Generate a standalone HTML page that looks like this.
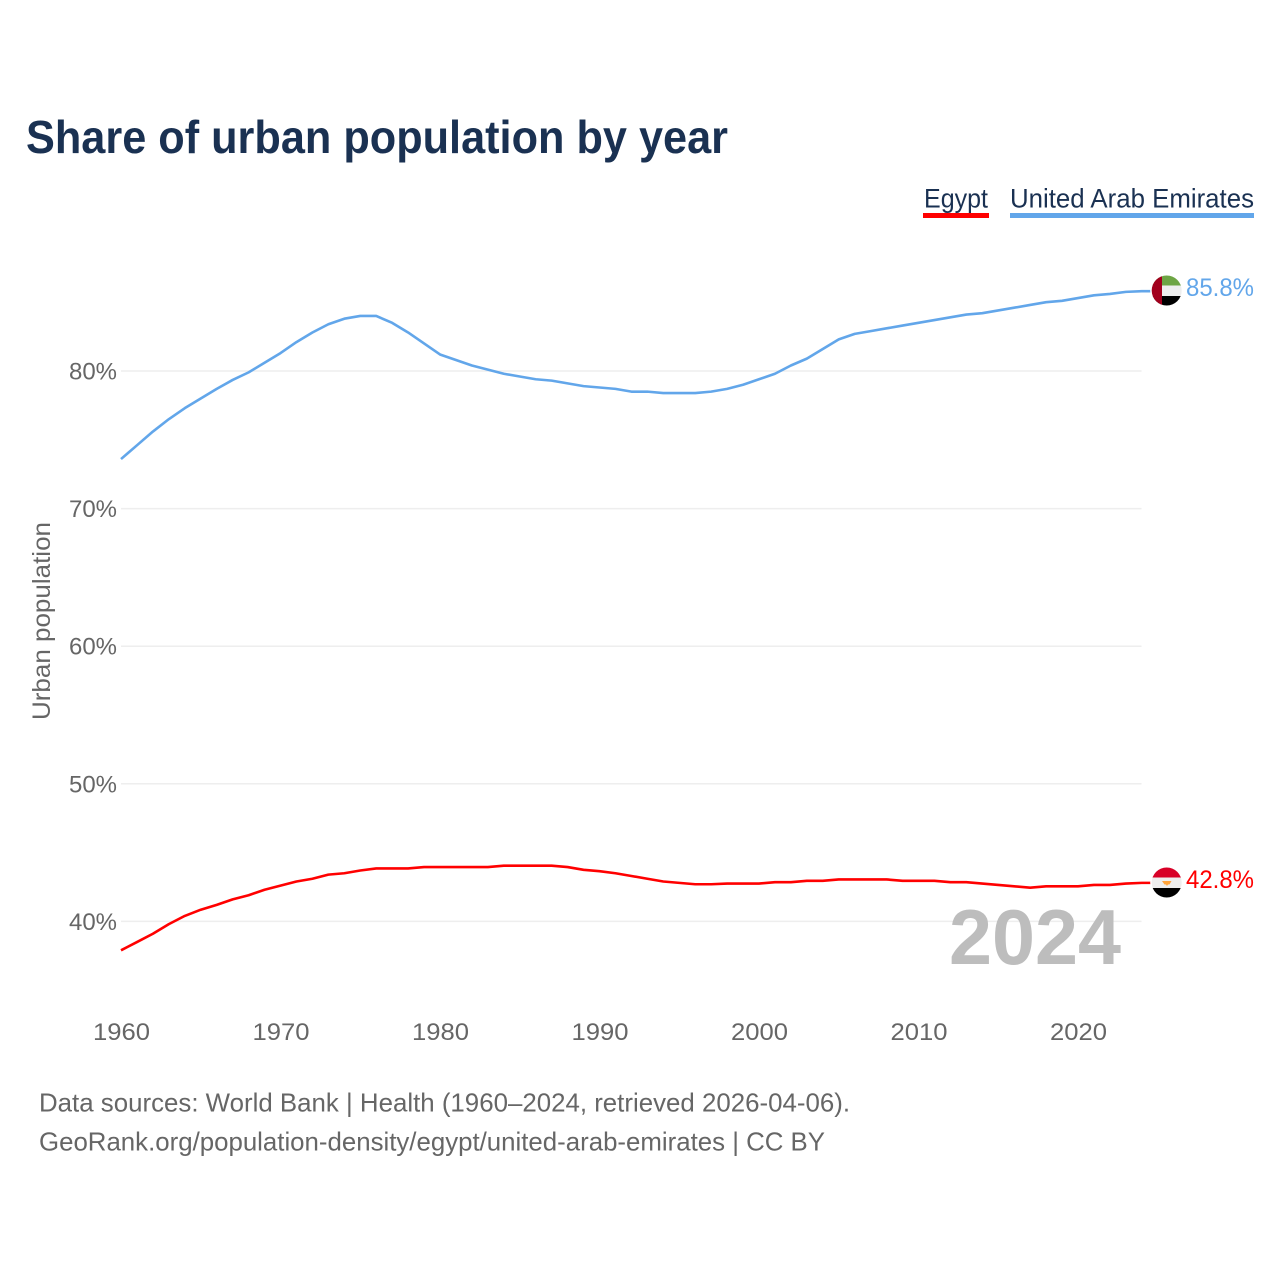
<!DOCTYPE html>
<html>
<head>
<meta charset="utf-8">
<title>Share of urban population by year</title>
<style>
html,body{margin:0;padding:0;background:#fff}
svg{display:block}
text{font-family:"Liberation Sans",sans-serif}
</style>
</head>
<body>
<svg id="chart" xmlns="http://www.w3.org/2000/svg" width="1280" height="1280" viewBox="0 0 1280 1280">
<defs>
<clipPath id="clip-uae"><circle cx="1166.7" cy="290.5" r="15"/></clipPath>
<clipPath id="clip-egypt"><circle cx="1166.7" cy="882.5" r="15"/></clipPath>
</defs>
<text x="26" y="153" font-size="46" font-weight="700" fill="#1a3152" textLength="702" lengthAdjust="spacingAndGlyphs">Share of urban population by year</text>
<g>
<g>
<text x="924" y="207.500" font-size="27" fill="#1a3152" textLength="64" lengthAdjust="spacingAndGlyphs">Egypt</text>
<rect x="923" y="213" width="66" height="5" fill="#ff0000"/>
</g>
<g>
<text x="1010" y="207.500" font-size="27" fill="#1a3152" textLength="244" lengthAdjust="spacingAndGlyphs">United Arab Emirates</text>
<rect x="1010" y="213" width="244" height="5" fill="#62a6ea"/>
</g>
</g>
<text transform="translate(50,720) rotate(-90)" font-size="25" fill="#666" textLength="198" lengthAdjust="spacingAndGlyphs">Urban population</text>
<g id="grid"></g>
<g id="y-ticks"></g>
<g id="x-ticks"></g>
<text id="year-label" x="949" y="964" font-size="78" font-weight="700" fill="#bdbdbd" textLength="172" lengthAdjust="spacingAndGlyphs">2024</text>
<g id="lines"></g>
<g>
<circle cx="1166.7" cy="290.5" r="16.5" fill="#fff"/>
<g clip-path="url(#clip-uae)">
<rect x="1151" y="275" width="32" height="11" fill="#6da544"/>
<rect x="1151" y="285.5" width="32" height="10.5" fill="#eeeeee"/>
<rect x="1151" y="296" width="32" height="11" fill="#000"/>
<rect x="1151" y="275" width="11" height="32" fill="#a2001d"/>
</g>
</g>
<g>
<circle cx="1166.7" cy="882.5" r="16.5" fill="#fff"/>
<g clip-path="url(#clip-egypt)">
<rect x="1151" y="867" width="32" height="11" fill="#d80027"/>
<rect x="1151" y="877.5" width="32" height="10.5" fill="#eeeeee"/>
<rect x="1151" y="888" width="32" height="11" fill="#000"/>
<path d="M1162 881h9.500l-2 3.500h-1.500l-1 1.500-1-1.500h-1.500z" fill="#ffa43a"/>
</g>
</g>
<text id="value-uae" x="1186" y="296" font-size="25" fill="#62a6ea" textLength="68" lengthAdjust="spacingAndGlyphs"></text>
<text id="value-egypt" x="1186" y="888" font-size="25" fill="#ff0000" textLength="68" lengthAdjust="spacingAndGlyphs"></text>
<text x="39" y="1111.500" font-size="26" fill="#666" textLength="811" lengthAdjust="spacingAndGlyphs">Data sources: World Bank | Health (1960–2024, retrieved 2026-04-06).</text>
<text x="39" y="1150.500" font-size="26" fill="#666" textLength="786" lengthAdjust="spacingAndGlyphs">GeoRank.org/population-density/egypt/united-arab-emirates | CC BY</text>
</svg>
<script>
const startYear = 1960;
const xTickYears = [1960, 1970, 1980, 1990, 2000, 2010, 2020];
const yTickValues = [40, 50, 60, 70, 80];
const uaeValues = [73.6,74.6,75.6,76.5,77.3,78.0,78.7,79.35,79.9,80.6,81.3,82.1,82.8,83.4,83.8,84.0,84.0,83.5,82.8,82.0,81.2,80.8,80.4,80.1,79.8,79.6,79.4,79.3,79.1,78.9,78.8,78.7,78.5,78.5,78.4,78.4,78.4,78.5,78.7,79.0,79.4,79.8,80.4,80.9,81.6,82.3,82.7,82.9,83.1,83.3,83.5,83.7,83.9,84.1,84.2,84.4,84.6,84.8,85.0,85.1,85.3,85.5,85.6,85.75,85.8];
const egyptValues = [37.9,38.5,39.1,39.8,40.4,40.85,41.2,41.6,41.9,42.3,42.6,42.9,43.1,43.4,43.5,43.7,43.85,43.85,43.85,43.95,43.95,43.95,43.95,43.95,44.05,44.05,44.05,44.05,43.95,43.75,43.65,43.5,43.3,43.1,42.9,42.8,42.7,42.7,42.75,42.75,42.75,42.85,42.85,42.95,42.95,43.05,43.05,43.05,43.05,42.95,42.95,42.95,42.85,42.85,42.75,42.65,42.55,42.45,42.55,42.55,42.55,42.65,42.65,42.75,42.8];

const NS = 'http://www.w3.org/2000/svg';
function xScale(year) { return 121 + (year - 1960) * 15.95; }
function yScale(v) { return 921.4 - (v - 40) * 13.76; }
function make(tag, parent, attrs, txt) {
  const el = document.createElementNS(NS, tag);
  for (const k in attrs) el.setAttribute(k, attrs[k]);
  if (txt !== undefined) el.textContent = txt;
  parent.appendChild(el);
  return el;
}
const grid = document.getElementById('grid');
const yTicks = document.getElementById('y-ticks');
const xTicks = document.getElementById('x-ticks');
const lines = document.getElementById('lines');

yTickValues.forEach(function (v) {
  const line = make('line', grid, {x1: 121, x2: 1141.5, y1: yScale(v), y2: yScale(v), stroke: '#eeeeee', 'stroke-width': 1.5});
  
  
  const label = make('text', yTicks, {x: 69, y: yScale(v) + 8.5, 'font-size': 24, fill: '#666', textLength: 48, lengthAdjust: 'spacingAndGlyphs'}, v + '%');
  
  
});
xTickYears.forEach(function (yr) {
  const label = make('text', xTicks, {x: xScale(yr) - 28, y: 1040, 'font-size': 24, fill: '#666', textLength: 57, lengthAdjust: 'spacingAndGlyphs'}, String(yr));
  
  
});
function seriesPath(values) {
  let pts = values.map(function (v, i) { return xScale(startYear + i).toFixed(2) + ',' + yScale(v).toFixed(2); });
  const last = values[values.length - 1];
  pts.push(xScale(startYear + values.length).toFixed(2) + ',' + yScale(last).toFixed(2));
  return pts.join(' ');
}
const uaeLine = make('polyline', lines, {points: seriesPath(uaeValues), fill: 'none', stroke: '#62a6ea', 'stroke-width': 2.6, 'stroke-linejoin': 'round'});


const egyptLine = make('polyline', lines, {points: seriesPath(egyptValues), fill: 'none', stroke: '#ff0000', 'stroke-width': 2.6, 'stroke-linejoin': 'round'});


document.getElementById('value-uae').textContent = uaeValues[uaeValues.length - 1].toFixed(1) + '%';
document.getElementById('value-egypt').textContent = egyptValues[egyptValues.length - 1].toFixed(1) + '%';
</script>
</body>
</html>
